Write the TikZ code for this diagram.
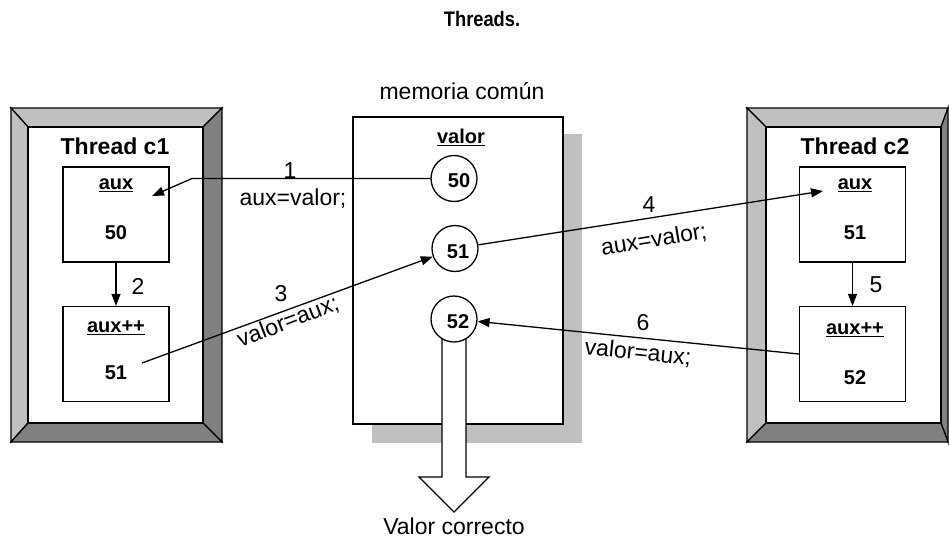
\documentclass[tikz,border=0pt]{standalone}
\usepackage{fontspec}
\setmainfont{Liberation Sans}
\usetikzlibrary{arrows.meta}
\definecolor{bevellight}{RGB}{192,192,192}
\definecolor{beveldark}{RGB}{128,128,128}
\definecolor{shadowgray}{RGB}{192,192,192}
\begin{document}
\begin{tikzpicture}[x=1pt,y=-1pt,
  lbl/.style={font=\fontsize{23}{26}\selectfont, inner sep=0pt},
  blbl/.style={font=\fontsize{20}{24}\selectfont\bfseries, inner sep=0pt},
  ttl/.style={font=\fontsize{23}{26}\selectfont\bfseries, inner sep=0pt},
  conn/.style={line width=1.3pt, -{Triangle[length=12pt,width=9pt]}},
  edge/.style={draw=black, line width=1.3pt, line join=miter},
  lightband/.style={edge, fill=bevellight},
  darkband/.style={edge, fill=beveldark},
  varbox/.style={draw, line width=1.3pt, fill=white, minimum width=106pt, minimum height=95pt, inner sep=0pt},
  circ/.style={circle, draw, line width=1.3pt, fill=white, minimum size=46pt, inner sep=0pt},
]
\useasboundingbox (0,0) rectangle (949,538);

% title
\node[font=\fontsize{21}{24}\selectfont\bfseries, inner sep=0pt] (title) at (482,19) {\scalebox{0.87}[1]{Threads.}};

% ---------- left thread frame ----------
\path[lightband] (11,108) -- (222,108) -- (203,127) -- (28,127) -- cycle;
\path[lightband] (11,108) -- (28,127) -- (28,423) -- (11,442) -- cycle;
\path[darkband] (222,108) -- (222,442) -- (203,423) -- (203,127) -- cycle;
\path[darkband] (11,442) -- (222,442) -- (203,423) -- (28,423) -- cycle;
\path[edge, fill=white] (28,127) rectangle (203,423);
\node[ttl] (th1) at (115,146) {Thread c1};
\node[varbox] (aux1) at (116,214.5) {};
\node[blbl] (aux1n) at (116,185) {\underline{aux}};
\node[blbl] (aux1v) at (116,233) {50};
\node[varbox] (inc1) at (116,354) {};
\node[blbl] (inc1n) at (116,328) {\underline{aux++}};
\node[blbl] (inc1v) at (116,373) {51};
\draw[conn] (aux1.south) -- (inc1.north);
\node[lbl] (l2) at (138,286) {2};

% ---------- right thread frame ----------
\path[lightband] (747,108) -- (948,108) -- (941,127) -- (766,127) -- cycle;
\path[lightband] (747,108) -- (766,127) -- (766,423) -- (747,442) -- cycle;
\path[darkband] (948,108) -- (948,442) -- (941,423) -- (941,127) -- cycle;
\path[darkband] (747,442) -- (948,442) -- (941,423) -- (766,423) -- cycle;
\path[edge, fill=white] (766,127) rectangle (941,423);
\node[ttl] (th2) at (855,146) {Thread c2};
\node[varbox] (aux2) at (852.5,214.5) {};
\node[blbl] (aux2n) at (855,185) {\underline{aux}};
\node[blbl] (aux2v) at (855,233) {51};
\node[varbox] (inc2) at (852.5,354) {};
\node[blbl] (inc2n) at (855,330) {\underline{aux++}};
\node[blbl] (inc2v) at (855,378) {52};
\draw[conn] (aux2.south) -- (inc2.north);
\node[lbl] (l5) at (876,285) {5};

% ---------- shared memory ----------
\node[lbl] (memt) at (462,91) {memoria común};
\fill[shadowgray] (372,134) rectangle (582,443);
\path[edge, fill=white] (353,117) rectangle (563,424);
\node[blbl] (valt) at (461,137) {\underline{valor}};

% big output arrow
\path[edge, fill=white] (442,338) -- (442,477) -- (419,477) -- (454,512) -- (489,477) -- (466,477) -- (466,338);
\node[lbl] (res) at (454,526) {Valor correcto};

\node[circ] (c50) at (454,178.5) {};
\node[blbl] at (459,181) {50};
\node[circ] (c51) at (455,248.5) {};
\node[blbl] at (458,252) {51};
\node[circ] (c52) at (454,319) {};
\node[blbl] at (458,322) {52};

% ---------- connectors ----------
\coordinate (k1) at (192,178.5);
\coordinate (t1) at (152,196);
\draw[conn] (c50.west) -- (k1) -- (t1);
\node[lbl] (l1) at (290,171) {1};
\node[lbl] (a1) at (293,199) {aux=valor;};

\coordinate (s3) at (142,363);
\draw[conn] (s3) -- (c51);
\node[lbl] (l3) at (281,294) {3};
\node[lbl, rotate=21] (a3) at (288,322) {valor=aux;};

\coordinate (t4) at (823,191);
\draw[conn] (c51) -- (t4);
\node[lbl] (l4) at (649,205) {4};
\node[lbl, rotate=9.4] (a4) at (654,240) {aux=valor;};

\draw[conn] (inc2.west) -- (c52);
\node[lbl] (l6) at (643,323) {6};
\node[lbl, rotate=-6] (a6) at (638,353) {valor=aux;};
\end{tikzpicture}
\end{document}
